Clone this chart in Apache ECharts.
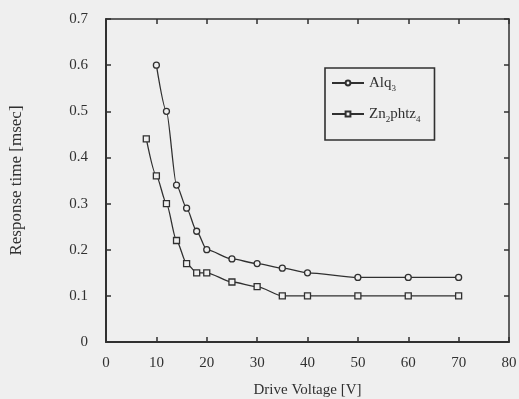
<!DOCTYPE html>
<html>
<head>
<meta charset="utf-8">
<script src="https://cdn.jsdelivr.net/npm/echarts@6/dist/echarts.min.js"></script>
<style>
  html, body { margin: 0; padding: 0; background: #efefef; }
  #box { width: 519px; height: 399px; }
</style>
</head>
<body>
<div id="box"></div>
<script>
var alqX = [10, 12, 14, 16, 18, 20, 25, 30, 35, 40, 50, 60, 70];
var alqY = [0.6, 0.5, 0.34, 0.29, 0.24, 0.2, 0.18, 0.17, 0.16, 0.15, 0.14, 0.14, 0.14];
var znX = [8, 10, 12, 14, 16, 18, 20, 25, 30, 35, 40, 50, 60, 70];
var znY = [0.44, 0.36, 0.30, 0.22, 0.17, 0.15, 0.15, 0.13, 0.12, 0.10, 0.10, 0.10, 0.10, 0.10];

function pairs(xs, ys) {
    var out = [];
    for (var i = 0; i < xs.length; i++) out.push([xs[i], ys[i]]);
    return out;
}

var ink = '#303030';
var serif = '"Liberation Serif", "DejaVu Serif", serif';

var myChart = echarts.init(document.getElementById('box'));
var option = {
    backgroundColor: '#efefef',
    animation: false,
    textStyle: { fontFamily: serif, color: ink },
    grid: { left: 106, right: 10, top: 19, bottom: 57, containLabel: false, outerBoundsMode: 'none' },
    legend: {
        orient: 'vertical',
        left: 325,
        top: 68,
        padding: [5, 14, 16, 6],
        itemGap: 11,
        itemWidth: 32,
        itemHeight: 6,
        borderColor: ink,
        borderWidth: 1.6,
        borderRadius: 0,
        data: ['Alq3', 'Zn2phtz4'],
        formatter: function (name) {
            if (name === 'Alq3') return '{a|Alq}{s|3}';
            return '{a|Zn}{s|2}{a|phtz}{s|4}';
        },
        textStyle: {
            fontFamily: serif,
            color: ink,
            rich: {
                a: { fontFamily: serif, fontSize: 15, color: ink, lineHeight: 20 },
                s: { fontFamily: serif, fontSize: 9, color: ink, lineHeight: 20, padding: [11, 0, 0, 0] }
            }
        }
    },
    xAxis: [{
        type: 'value',
        min: 0, max: 80, interval: 10,
        name: 'Drive Voltage [V]',
        nameLocation: 'middle',
        nameGap: 41,
        nameTextStyle: { fontFamily: serif, fontSize: 15, color: ink },
        axisLine: { show: true, onZero: false, lineStyle: { color: ink, width: 2 } },
        axisTick: { show: true, inside: true, length: 5, lineStyle: { color: ink, width: 1.5 } },
        axisLabel: { fontFamily: serif, fontSize: 15, color: ink, margin: 14 },
        splitLine: { show: false }
    }, {
        type: 'value',
        position: 'top',
        min: 0, max: 80, interval: 10,
        axisLine: { show: true, onZero: false, lineStyle: { color: ink, width: 1.5 } },
        axisTick: { show: true, inside: true, length: 5, lineStyle: { color: ink, width: 1.5 } },
        axisLabel: { show: false },
        splitLine: { show: false }
    }],
    yAxis: [{
        type: 'value',
        min: 0, max: 0.7, interval: 0.1,
        name: 'Response time [msec]',
        nameLocation: 'middle',
        nameGap: 81,
        nameTextStyle: { fontFamily: serif, fontSize: 17, color: ink },
        axisLine: { show: true, onZero: false, lineStyle: { color: ink, width: 2 } },
        axisTick: { show: true, inside: true, length: 5, lineStyle: { color: ink, width: 1.5 } },
        axisLabel: { fontFamily: serif, fontSize: 15, color: ink, margin: 18 },
        splitLine: { show: false }
    }, {
        type: 'value',
        position: 'right',
        min: 0, max: 0.7, interval: 0.1,
        axisLine: { show: true, onZero: false, lineStyle: { color: ink, width: 1.5 } },
        axisTick: { show: true, inside: true, length: 5, lineStyle: { color: ink, width: 1.5 } },
        axisLabel: { show: false },
        splitLine: { show: false }
    }],
    series: [{
        name: 'Alq3',
        type: 'line',
        data: pairs(alqX, alqY),
        smooth: 0.25,
        smoothMonotone: 'x',
        symbol: 'circle',
        symbolSize: 6,
        itemStyle: { color: '#efefef', borderColor: ink, borderWidth: 1.3 },
        lineStyle: { color: ink, width: 1.3 }
    }, {
        name: 'Zn2phtz4',
        type: 'line',
        data: pairs(znX, znY),
        smooth: 0.25,
        smoothMonotone: 'x',
        symbol: 'rect',
        symbolSize: 6,
        itemStyle: { color: '#efefef', borderColor: ink, borderWidth: 1.3 },
        lineStyle: { color: ink, width: 1.3 }
    }]
};
myChart.setOption(option);
</script>
</body>
</html>
